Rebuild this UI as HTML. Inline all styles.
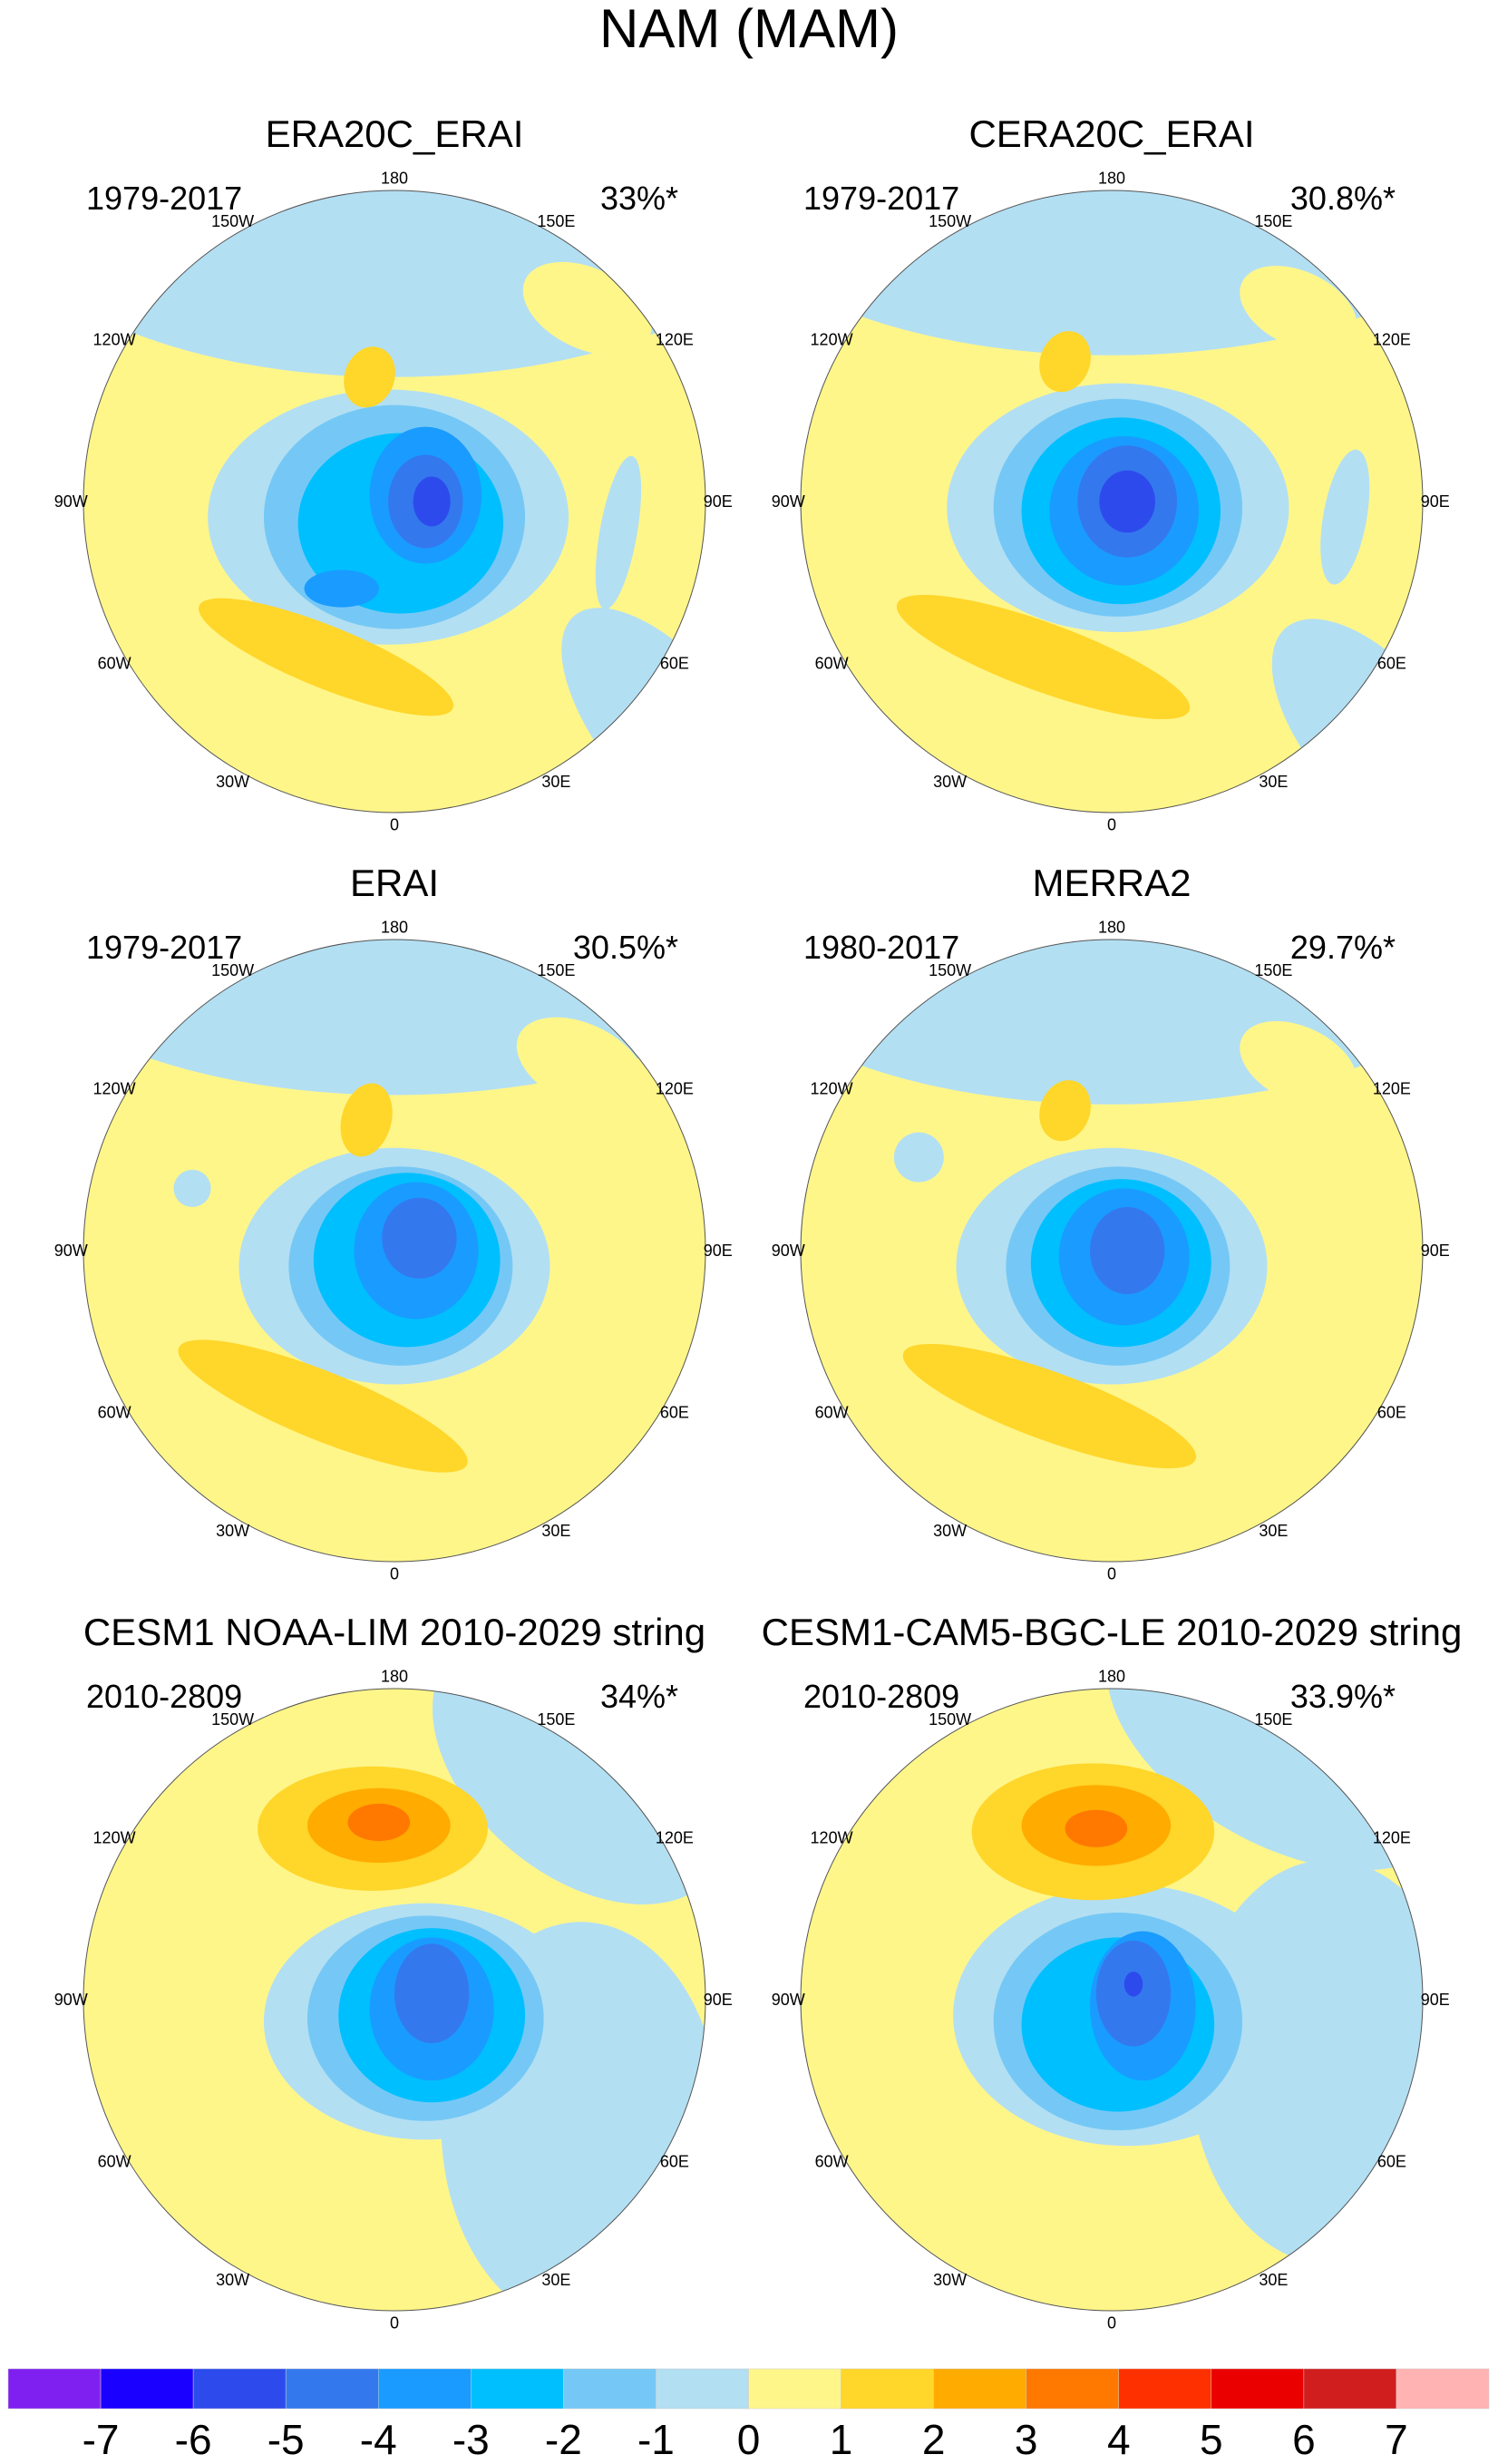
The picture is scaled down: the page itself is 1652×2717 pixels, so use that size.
<!DOCTYPE html>
<html><head><meta charset="utf-8"><style>
body{margin:0;background:#fff;}
svg{display:block;font-family:"Liberation Sans",sans-serif;}
</style></head><body>
<svg id="fig" width="1652" height="2717" viewBox="0 0 1652 2717" xmlns="http://www.w3.org/2000/svg">
<text x="826" y="52" font-size="60" text-anchor="middle">NAM (MAM)</text>
<g id="panels"></g>
<g id="cbar"></g>
</svg>
<script>
const NS="http://www.w3.org/2000/svg";
const levelColors=["#8020f0","#1a00ff","#2d4bec","#3478ee","#1a9bff","#00bfff","#75c8f5","#b3dff3","#fff68a","#ffd62a","#ffab00","#ff7800","#ff3000","#eb0000","#d01e1e","#ffb3b3"];
const tickLabels=["-7","-6","-5","-4","-3","-2","-1","0","1","2","3","4","5","6","7"];
const panelTitles=["ERA20C_ERAI","CERA20C_ERAI","ERAI","MERRA2","CESM1 NOAA-LIM 2010-2029 string","CESM1-CAM5-BGC-LE 2010-2029 string"];
const panelPeriods=["1979-2017","1979-2017","1979-2017","1980-2017","2010-2809","2010-2809"];
const panelVariance=["33%*","30.8%*","30.5%*","29.7%*","34%*","33.9%*"];
const lonLabels=["180","150E","120E","90E","60E","30E","0","30W","60W","90W","120W","150W"];
// anomaly blobs: [colorIndex, x, y, rx, ry, rotationDeg] in map-radius units
const blobs1=[[7,0,-1.0,1.3,0.6,0],[8,0.62,-0.62,0.22,0.13,25],[7,-0.02,0.05,0.58,0.41,0],[7,0.9,0.75,0.22,0.5,-40],[7,0.72,0.1,0.06,0.25,10],[9,-0.22,0.5,0.44,0.1,22],[9,-0.08,-0.4,0.08,0.1,20],[6,0.0,0.05,0.42,0.36,0],[5,0.02,0.07,0.33,0.29,0],[4,0.1,-0.02,0.18,0.22,0],[4,-0.17,0.28,0.12,0.06,0],[3,0.1,0.0,0.12,0.15,0],[2,0.12,0.0,0.06,0.08,0]];
const blobs2=[[7,0,-1.05,1.3,0.58,0],[8,0.6,-0.62,0.2,0.12,25],[7,0.02,0.02,0.55,0.4,0],[7,0.85,0.75,0.22,0.45,-40],[7,0.75,0.05,0.07,0.22,10],[9,-0.22,0.5,0.5,0.11,20],[9,-0.15,-0.45,0.08,0.1,20],[6,0.02,0.02,0.4,0.35,0],[5,0.03,0.03,0.32,0.3,0],[4,0.04,0.03,0.24,0.24,0],[3,0.05,0.0,0.16,0.18,0],[2,0.05,0.0,0.09,0.1,0]];
const blobs3=[[7,0,-1.08,1.3,0.58,0],[8,0.6,-0.6,0.22,0.13,25],[7,0.0,0.05,0.5,0.38,0],[7,-0.65,-0.2,0.06,0.06,0],[9,-0.23,0.5,0.5,0.11,22],[9,-0.09,-0.42,0.08,0.12,15],[6,0.02,0.05,0.36,0.32,0],[5,0.04,0.03,0.3,0.28,0],[4,0.07,0.0,0.2,0.22,0],[3,0.08,-0.04,0.12,0.13,0]];
const blobs4=[[7,0,-1.05,1.3,0.58,0],[8,0.6,-0.6,0.2,0.12,25],[7,0.0,0.05,0.5,0.38,0],[7,-0.62,-0.3,0.08,0.08,0],[9,-0.2,0.5,0.5,0.11,20],[9,-0.15,-0.45,0.08,0.1,20],[6,0.02,0.05,0.36,0.32,0],[5,0.03,0.04,0.29,0.27,0],[4,0.04,0.02,0.21,0.22,0],[3,0.05,0.0,0.12,0.14,0]];
const blobs5=[[7,0.6,-0.75,0.55,0.35,40],[7,0.6,0.4,0.45,0.65,0],[7,0.1,0.07,0.52,0.38,0],[9,-0.07,-0.55,0.37,0.2,0],[10,-0.05,-0.56,0.23,0.12,0],[11,-0.05,-0.57,0.1,0.06,0],[6,0.1,0.06,0.38,0.33,0],[5,0.12,0.05,0.3,0.28,0],[4,0.12,0.03,0.2,0.23,0],[3,0.12,-0.02,0.12,0.16,0]];
const blobs6=[[7,0.55,-0.85,0.62,0.35,30],[7,0.7,0.2,0.45,0.65,0],[7,0.05,0.05,0.56,0.42,0],[9,-0.06,-0.54,0.39,0.22,0],[10,-0.05,-0.56,0.24,0.13,0],[11,-0.05,-0.55,0.1,0.06,0],[6,0.02,0.07,0.4,0.35,0],[5,0.02,0.08,0.31,0.28,0],[4,0.1,0.02,0.17,0.24,0],[3,0.07,-0.02,0.12,0.17,0],[2,0.07,-0.05,0.03,0.04,0]];
const panelBlobs=[blobs1,blobs2,blobs3,blobs4,blobs5,blobs6];

const colX=[435,1226], rowY=[553,1379,2205], R=343;
const panels=document.getElementById('panels');
function mk(tag,attrs,parent){const e=document.createElementNS(NS,tag);for(const k in attrs)e.setAttribute(k,attrs[k]);parent.appendChild(e);return e;}
panelTitles.forEach((t,i)=>{
  const cx=colX[i%2], cy=rowY[Math.floor(i/2)];
  const g=mk('g',{},panels);
  
  
  const cid='clip'+i;
  const cp=mk('clipPath',{id:cid},g); mk('circle',{cx:cx,cy:cy,r:R},cp);
  const bg=mk('circle',{cx:cx,cy:cy,r:R,fill:levelColors[8]},g);
  
  
  const fg=mk('g',{'clip-path':'url(#'+cid+')'},g);
  panelBlobs[i].forEach(b=>{
    const x=cx+b[1]*R, y=cy+b[2]*R;
    const e=mk('ellipse',{cx:x,cy:y,rx:b[3]*R,ry:b[4]*R,fill:levelColors[b[0]],transform:`rotate(${b[5]} ${x} ${y})`},fg);
    
    
  });
  const ol=mk('circle',{cx:cx,cy:cy,r:R,fill:'none',stroke:'#555','stroke-width':1},g);
  
  
  lonLabels.forEach((l,k)=>{
    const a=k*30*Math.PI/180, rr=R*1.04;
    const x=cx+Math.sin(a)*rr, y=cy-Math.cos(a)*rr;
    const tx=mk('text',{x:x,y:y+6,'font-size':18,'text-anchor':'middle'},g);
    tx.textContent=l;
    
    
  });
  const tt=mk('text',{x:cx,y:cy-391,'font-size':42,'text-anchor':'middle'},g); tt.textContent=t;
  
  
  const pl=mk('text',{x:cx-340,y:cy-322,'font-size':36},g); pl.textContent=panelPeriods[i];
  
  
  const vl=mk('text',{x:cx+313,y:cy-322,'font-size':36,'text-anchor':'end'},g); vl.textContent=panelVariance[i];
  
  
});
const cb=document.getElementById('cbar');
const x0=9,x1=1642,w=(x1-x0)/levelColors.length;
levelColors.forEach((c,i)=>{
  const r=mk('rect',{x:x0+i*w,y:2612,width:w,height:44,fill:c,stroke:'#ccc','stroke-width':0.5},cb);
  
  
});
tickLabels.forEach((l,i)=>{
  const t=mk('text',{x:x0+(i+1)*w,y:2706,'font-size':46,'text-anchor':'middle'},cb); t.textContent=l;
  
  
});
</script>
</body></html>
